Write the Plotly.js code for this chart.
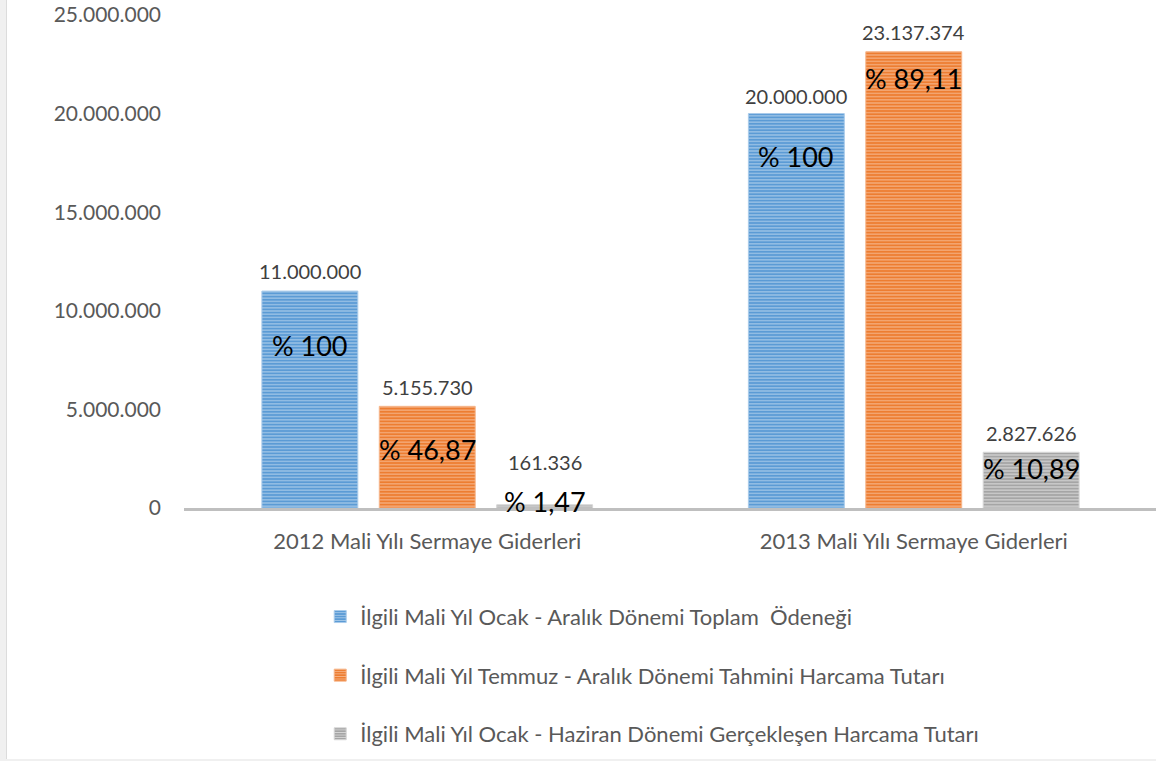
<!DOCTYPE html>
<html>
<head>
<meta charset="utf-8">
<script src="https://cdn.plot.ly/plotly-3.0.1.min.js"></script>
<style>
  html, body { margin: 0; padding: 0; background: #ffffff; }
  #wrap { position: relative; width: 1156px; height: 761px; background: #f0f0f0; overflow: hidden; }
  #chart { position: absolute; left: 6px; top: 0; width: 1150px; height: 759px; background: #fff; border-left: 1px solid #dcdcdc; box-sizing: border-box; }
</style>
</head>
<body>
<div id="wrap"><div id="chart"></div></div>
<script>
// ---- data ----
const categories = ["2012 Mali Yılı Sermaye Giderleri", "2013 Mali Yılı Sermaye Giderleri"];
const seriesNames = [
  "İlgili Mali Yıl Ocak - Aralık Dönemi Toplam  Ödeneği",
  "İlgili Mali Yıl Temmuz - Aralık Dönemi Tahmini Harcama Tutarı",
  "İlgili Mali Yıl Ocak - Haziran Dönemi Gerçekleşen Harcama Tutarı"
];
const toplamOdenek = [11000000, 20000000];
const tahminiHarcama = [5155730, 23137374];
const gerceklesenHarcama = [161336, 2827626];
const yuzdeToplam = ["% 100", "% 100"];
const yuzdeTahmini = ["% 46,87", "% 89,11"];
const yuzdeGerceklesen = ["% 1,47", "% 10,89"];
const yTicks = [0, 5000000, 10000000, 15000000, 20000000, 25000000];

// ---- styles ----
const colors = ["#5B9BD5", "#ED7D31", "#A5A5A5"];
const lineColors = ["#A9CBEA", "#F6B58A", "#D6D6D6"];
const FONT = "Lato, 'Open Sans', sans-serif";
const bargap = 0.276;
const slot = (1 - bargap) / 3;
// label offsets in pixels (layout only)
const valueShift = [[20, 19, 43], [18, 20, 19]];
const pctShift = [[-54, -43, 3], [-43, -27, -16]];

function fmt(v) {
  return String(v).replace(/\B(?=(\d{3})+(?!\d))/g, ".");
}

const values = [toplamOdenek, tahminiHarcama, gerceklesenHarcama];
const pcts = [yuzdeToplam, yuzdeTahmini, yuzdeGerceklesen];

const traces = values.map((vals, j) => ({
  type: "bar",
  name: seriesNames[j],
  x: categories,
  y: vals,
  legendgroup: "g" + j,
  hoverinfo: "skip",
  marker: {
    color: colors[j],
    line: { color: lineColors[j], width: 1 },
    pattern: { shape: "-", fillmode: "replace", bgcolor: colors[j], fgcolor: lineColors[j], size: 3.2, solidity: 0.35 }
  }
}));

const annotations = [];
values.forEach((vals, j) => {
  vals.forEach((v, i) => {
    const x = i + (j - 1) * slot;
    annotations.push({
      x: x, y: v, xref: "x", yref: "y", showarrow: false,
      text: fmt(v), yanchor: "middle", yshift: valueShift[i][j],
      font: { family: FONT, size: 20, color: "#404040" }
    });
    annotations.push({
      x: x, y: v, xref: "x", yref: "y", showarrow: false,
      text: pcts[j][i], yanchor: "middle", yshift: pctShift[i][j],
      font: { family: FONT, size: 27, color: "#000000" }
    });
  });
});

const layout = {
  width: 1150, height: 759,
  margin: { l: 177, r: 0, t: 15, b: 251, pad: 0 },
  paper_bgcolor: "rgba(0,0,0,0)",
  plot_bgcolor: "#ffffff",
  separators: ",.",
  barmode: "group",
  bargap: bargap,
  bargroupgap: 0.183,
  showlegend: true,
  font: { family: FONT, size: 22, color: "#595959" },
  xaxis: {
    type: "category",
    showline: true, linecolor: "#BFBFBF", linewidth: 3,
    showgrid: false, zeroline: false, ticks: "",
    ticklabelstandoff: 12,
    tickfont: { family: FONT, size: 22, color: "#595959" },
    fixedrange: true
  },
  yaxis: {
    range: [0, 25000000],
    tickvals: yTicks,
    tickformat: ",d",
    showgrid: false, zeroline: false, showline: false, ticks: "",
    ticklabelstandoff: 22,
    tickfont: { family: FONT, size: 21, color: "#595959" },
    fixedrange: true
  },
  legend: {
    orientation: "v",
    x: 0.14, xanchor: "left",
    y: -0.178, yanchor: "top",
    traceorder: "grouped",
    tracegroupgap: 27,
    font: { family: FONT, size: 22, color: "#595959" },
    bgcolor: "rgba(0,0,0,0)"
  },
  annotations: annotations
};

Plotly.newPlot("chart", traces, layout, { displayModeBar: false, staticPlot: true });
</script>
</body>
</html>
